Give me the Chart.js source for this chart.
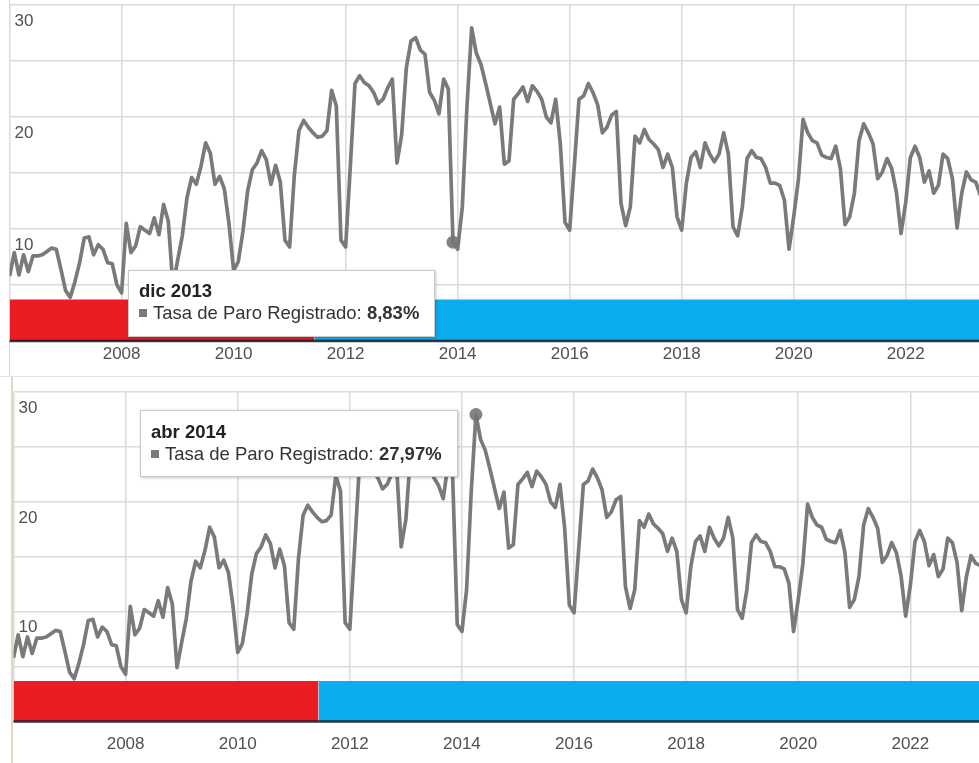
<!DOCTYPE html>
<html lang="es">
<head>
<meta charset="utf-8">
<script src="https://cdn.jsdelivr.net/npm/chart.js@4.4.1/dist/chart.umd.min.js"></script>
<style>
  html, body { margin: 0; padding: 0; background: #fff; width: 979px; height: 763px; overflow: hidden;
    font-family: "Liberation Sans", Arial, sans-serif; }
  .panel { position: absolute; left: 0; width: 979px; }
  .tip { position: absolute; background: #fff; border: 1px solid #c9c9c9; box-sizing: border-box;
    box-shadow: 1px 1px 3px rgba(0,0,0,.22); padding-left: 10px; font-size: 18.5px; line-height: 22px;
    color: #222; white-space: nowrap; }
  .tip .sq { display: inline-block; width: 8px; height: 8px; background: #7a7a7a; margin-right: 6px; vertical-align: 2px; }
  .tip .body { color: #333; }
  .linea { position: absolute; }
</style>
</head>
<body>
<div class="linea" style="left:9px;top:0;width:1px;height:377px;background:#d6d6d6"></div>
<div class="linea" style="left:0;top:376px;width:979px;height:1px;background:#e4e4e4"></div>
<div class="linea" style="left:11px;top:377px;width:2px;height:386px;background:#e2d8c9"></div>

<div class="panel" style="top:-10px;height:387px"><canvas id="arriba" width="979" height="387"></canvas></div>
<div class="panel" style="top:377px;height:386px"><canvas id="abajo" width="979" height="386"></canvas></div>

<div class="tip" id="tipArriba" style="left:128px;top:270px;width:307px;height:67px;padding-top:9px"></div>
<div class="tip" id="tipAbajo" style="left:140px;top:410px;width:318px;height:67px;padding-top:10px"></div>

<script>
// Tasa de Paro Registrado, serie mensual desde ene 2006
const meses = ["ene", "feb", "mar", "abr", "may", "jun", "jul", "ago", "sep", "oct", "nov", "dic"];
const anioInicio = 2006;
const tasaParo = [
  5.8, 7.9, 5.9, 7.7, 6.2, 7.6, 7.6, 7.7, 8.0, 8.3, 8.2, 6.4,          // 2006
  4.5, 3.9, 5.3, 7.0, 9.2, 9.3, 7.7, 8.6, 8.2, 7.0, 6.9, 5.0,          // 2007
  4.3, 10.5, 7.9, 8.5, 10.2, 9.9, 9.6, 11.0, 9.5, 12.2, 10.7, 4.9,     // 2008
  7.2, 9.4, 12.8, 14.6, 14.0, 15.6, 17.7, 16.8, 14.0, 14.7, 13.6, 10.5, // 2009
  6.3, 7.1, 9.8, 13.4, 15.3, 15.9, 17.0, 16.2, 14.0, 15.7, 14.2, 9.0,  // 2010
  8.4, 14.8, 18.8, 19.7, 19.1, 18.6, 18.2, 18.3, 18.8, 22.4, 21.0, 9.0, // 2011
  8.4, 15.6, 23.0, 23.7, 23.1, 22.8, 22.2, 21.2, 21.6, 22.6, 23.4, 15.9, // 2012
  18.4, 24.4, 26.8, 27.1, 26.0, 25.6, 22.2, 21.5, 20.3, 23.4, 22.5, 8.83, // 2013
  8.2, 12.0, 21.0, 27.97, 25.7, 24.7, 23.0, 21.2, 19.4, 20.9, 15.8, 16.1, // 2014
  21.6, 22.1, 22.7, 21.4, 22.8, 22.3, 21.6, 20.0, 19.5, 21.6, 17.6, 10.6, // 2015
  9.9, 15.7, 21.6, 21.9, 23.0, 22.2, 21.1, 18.6, 19.1, 20.2, 20.5, 12.3, // 2016
  10.3, 12.0, 18.3, 17.7, 18.9, 18.0, 17.6, 17.1, 15.5, 16.7, 15.5, 11.1, // 2017
  9.9, 14.1, 16.4, 16.9, 15.5, 17.7, 16.7, 16.0, 16.7, 18.6, 16.7, 10.2, // 2018
  9.4, 12.0, 16.3, 17.0, 16.4, 16.3, 15.5, 14.1, 14.1, 13.9, 12.6, 8.2, // 2019
  11.1, 14.4, 19.8, 18.6, 17.9, 17.7, 16.6, 16.4, 16.3, 17.4, 15.4, 10.4, // 2020
  11.1, 13.2, 17.9, 19.4, 18.6, 17.6, 14.5, 15.1, 16.3, 15.4, 13.3, 9.6, // 2021
  12.4, 16.4, 17.4, 16.4, 14.2, 15.2, 13.2, 13.9, 16.7, 16.3, 14.5, 10.1, // 2022
  13.2, 15.1, 14.4, 14.2, 13.0                                          // 2023
];
const etiquetasMes = tasaParo.map((_, i) => meses[i % 12] + " " + (anioInicio + Math.floor(i / 12)));

// periodos de gobierno (en meses desde ene 2006)
const periodoInicio = [0, 65.3];
const periodoFin = [65.3, 209];
const FRANJA = 3.7;

const FUENTE = '"Liberation Sans", Arial, sans-serif';

function crearPanel(canvasId, cfg) {
  const serie = tasaParo.map((v, i) => ({ x: i, y: v }));
  return new Chart(document.getElementById(canvasId), {
    type: "line",
    data: {
      datasets: [
        {
          label: "Tasa de Paro Registrado",
          data: serie,
          borderColor: "#7a7a7a",
          borderWidth: 3.7,
          borderJoinStyle: "round",
          pointRadius: 0,
          tension: 0,
          order: 1
        },
        {
          label: "resaltado",
          data: [{ x: cfg.resaltado, y: tasaParo[cfg.resaltado] }],
          showLine: false,
          pointRadius: 6.5,
          pointBackgroundColor: "rgba(118,118,118,0.9)",
          pointBorderWidth: 0,
          order: 0
        },
        {
          label: "periodo 1",
          data: [{ x: periodoInicio[0], y: FRANJA }, { x: periodoFin[0], y: FRANJA }],
          fill: "origin",
          backgroundColor: "#ec1c24",
          borderWidth: 0,
          pointRadius: 0,
          order: 3
        },
        {
          label: "periodo 2",
          data: [{ x: periodoInicio[1], y: FRANJA }, { x: periodoFin[1], y: FRANJA }],
          fill: "origin",
          backgroundColor: "#0aaeef",
          borderWidth: 0,
          pointRadius: 0,
          order: 3
        },
        {
          label: "base",
          data: [{ x: 0, y: 0 }, { x: periodoFin[1], y: 0 }],
          borderColor: "rgba(25,25,35,0.85)",
          borderWidth: 2.5,
          pointRadius: 0,
          clip: false,
          order: 2
        }
      ]
    },
    options: {
      responsive: false,
      animation: false,
      events: [],
      layout: { padding: { left: cfg.izq, top: cfg.arriba, right: 0, bottom: 0 }, autoPadding: false },
      plugins: { legend: { display: false }, tooltip: { enabled: false } },
      scales: {
        x: {
          type: "linear",
          min: 0,
          max: cfg.xMax,
          afterFit: s => { s.height = cfg.ejeAlto; },
          grid: { color: "#dcdcdc", lineWidth: 1.6, drawTicks: false },
          border: { display: false },
          ticks: {
            stepSize: 24,
            autoSkip: false,
            maxRotation: 0,
            includeBounds: false,
            padding: cfg.pad,
            color: "#505050",
            font: { size: 17, family: FUENTE },
            callback: v => (v === 0 ? "" : String(anioInicio + v / 12))
          }
        },
        y: {
          min: 0,
          max: 30,
          afterFit: s => { s.width = 0; },
          grid: { color: "#dcdcdc", lineWidth: 1.6, drawTicks: false },
          border: { display: false },
          ticks: {
            stepSize: 5,
            mirror: true,
            padding: 5,
            labelOffset: 16,
            color: "#505050",
            font: { size: 17, family: FUENTE },
            callback: v => (v > 0 && v % 10 === 0 ? String(v) : "")
          }
        }
      }
    }
  });
}

function rellenarTip(id, i) {
  const valor = tasaParo[i].toFixed(2).replace(".", ",") + "%";
  document.getElementById(id).innerHTML =
    "<div><b>" + etiquetasMes[i] + "</b></div>" +
    '<div class="body"><span class="sq"></span>Tasa de Paro Registrado: <b>' + valor + "</b></div>";
}

crearPanel("arriba", { izq: 9.6, arriba: 9, xMax: 207.7, ejeAlto: 36, pad: 3, resaltado: 95 });
crearPanel("abajo", { izq: 13.5, arriba: 3.5, xMax: 206.7, ejeAlto: 41.5, pad: 13, resaltado: 99 });
rellenarTip("tipArriba", 95);
rellenarTip("tipAbajo", 99);
</script>
</body>
</html>
